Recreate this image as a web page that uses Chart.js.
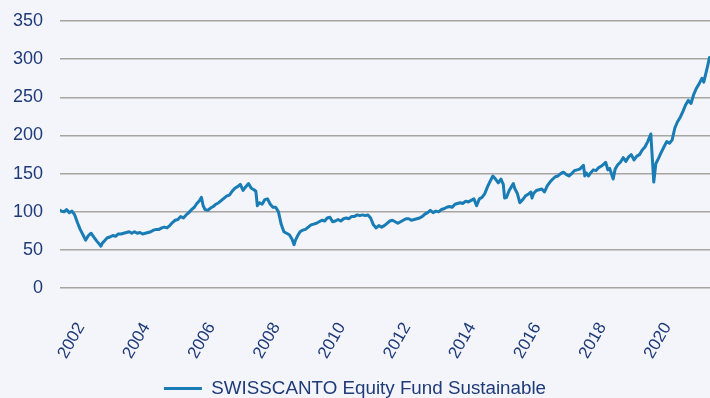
<!DOCTYPE html>
<html>
<head>
<meta charset="utf-8">
<script src="https://cdn.jsdelivr.net/npm/chart.js@4.4.1/dist/chart.umd.min.js"></script>
<style>
  html, body { margin: 0; padding: 0; background: #f3f5fb; }
  #wrap { width: 710px; height: 398px; }
</style>
</head>
<body>
<div id="wrap"><canvas id="chart" width="710" height="398"></canvas></div>
<script>
// Indexed NAV of the fund, one row per calendar year (dates and values line up row by row).
const dates = [
  '2002-01-01','2002-01-15','2002-02-15','2002-03-15','2002-04-15','2002-05-15','2002-06-15','2002-07-15','2002-08-15','2002-09-15','2002-10-15','2002-11-15','2002-12-15',
  '2003-01-15','2003-02-15','2003-03-15','2003-04-05','2003-04-20','2003-05-15','2003-06-15','2003-07-15','2003-08-15','2003-09-15','2003-10-15','2003-11-15','2003-12-15',
  '2004-01-15','2004-02-15','2004-03-15','2004-04-15','2004-05-15','2004-06-15','2004-07-15','2004-08-15','2004-09-15','2004-10-15','2004-11-15','2004-12-15',
  '2005-01-15','2005-02-15','2005-03-15','2005-04-15','2005-05-15','2005-06-15','2005-07-15','2005-08-15','2005-09-15','2005-10-15','2005-11-15','2005-12-15',
  '2006-01-15','2006-02-15','2006-03-15','2006-04-15','2006-05-05','2006-05-25','2006-06-15','2006-07-15','2006-08-15','2006-09-15','2006-10-15','2006-11-15','2006-12-15',
  '2007-01-15','2007-02-15','2007-03-15','2007-04-15','2007-05-15','2007-06-15','2007-07-15','2007-08-15','2007-09-15','2007-10-15','2007-11-15','2007-12-15',
  '2008-01-05','2008-01-22','2008-02-15','2008-03-15','2008-04-15','2008-05-15','2008-06-15','2008-07-15','2008-08-15','2008-09-15','2008-10-15','2008-11-15','2008-12-15',
  '2009-01-15','2009-02-15','2009-03-09','2009-03-25','2009-04-15','2009-05-15','2009-06-15','2009-07-15','2009-08-15','2009-09-15','2009-10-15','2009-11-15','2009-12-15',
  '2010-01-15','2010-02-15','2010-03-15','2010-04-15','2010-05-15','2010-06-15','2010-07-15','2010-08-15','2010-09-15','2010-10-15','2010-11-15','2010-12-15',
  '2011-01-15','2011-02-15','2011-03-15','2011-04-15','2011-05-15','2011-06-15','2011-07-15','2011-08-15','2011-09-15','2011-10-15','2011-11-15','2011-12-15',
  '2012-01-15','2012-02-15','2012-03-15','2012-04-15','2012-05-15','2012-06-15','2012-07-15','2012-08-15','2012-09-15','2012-10-15','2012-11-15','2012-12-15',
  '2013-01-15','2013-02-15','2013-03-15','2013-04-15','2013-05-15','2013-06-15','2013-07-15','2013-08-15','2013-09-15','2013-10-15','2013-11-15','2013-12-15',
  '2014-01-15','2014-02-15','2014-03-15','2014-04-15','2014-05-15','2014-06-15','2014-07-15','2014-08-15','2014-09-15','2014-10-15','2014-11-15','2014-12-15',
  '2015-01-15','2015-02-15','2015-03-15','2015-04-15','2015-05-15','2015-06-15','2015-07-15','2015-08-10','2015-08-25','2015-09-15','2015-10-15','2015-11-15','2015-12-01','2015-12-15',
  '2016-01-15','2016-02-11','2016-03-15','2016-04-15','2016-05-15','2016-06-15','2016-06-27','2016-07-15','2016-08-15','2016-09-15','2016-10-15','2016-11-15','2016-12-15',
  '2017-01-15','2017-02-15','2017-03-15','2017-04-15','2017-05-15','2017-06-15','2017-07-15','2017-08-15','2017-09-15','2017-10-15','2017-11-15','2017-12-15',
  '2018-01-25','2018-02-09','2018-02-25','2018-03-23','2018-04-15','2018-05-15','2018-06-15','2018-07-15','2018-08-15','2018-09-15','2018-10-01','2018-10-25','2018-11-15','2018-12-24',
  '2019-01-15','2019-02-15','2019-03-15','2019-04-15','2019-05-15','2019-06-15','2019-07-15','2019-08-15','2019-09-15','2019-10-15','2019-11-15','2019-12-15',
  '2020-01-15','2020-02-19','2020-03-23','2020-04-15','2020-05-15','2020-06-15','2020-07-15','2020-08-15','2020-09-15','2020-10-15','2020-11-15','2020-12-15',
  '2021-01-15','2021-02-15','2021-03-15','2021-04-15','2021-05-15','2021-06-15','2021-07-15','2021-08-15','2021-09-15','2021-10-05','2021-11-15','2021-12-08'
];
const fundValues = [
  102, 101, 100, 103,  99, 101,  96,  86,  77,  70,  63,  69,  72,
   67,  62,  58,  55,  59,  62,  66,  67,  69,  68,  71,  71,  72,
   73,  74,  72,  74,  72,  73,  71,  72,  73,  74,  76,  77,
   77,  79,  80,  79,  82,  86,  89,  90,  94,  92,  96,  99,
  103, 106, 111, 115, 119, 108, 103, 102, 105, 107, 110, 112, 115,
  118, 121, 122, 127, 131, 133, 136, 128, 133, 137, 131, 129,
  127, 108, 112, 110, 116, 117, 110, 106, 106, 100,  84,  74,  72,
   70,  64,  57,  63,  68,  74,  76,  77,  80,  83,  84,  85,  87,
   89,  88,  92,  93,  87,  88,  90,  88,  91,  92,  91,  94,
   94,  96,  95,  96,  95,  96,  92,  83,  79,  82,  80,  82,
   85,  88,  89,  87,  85,  87,  89,  91,  91,  89,  90,  91,
   92,  94,  97,  99, 102,  99, 101, 100, 103, 104, 106, 107,
  106, 110, 111, 112, 111, 114, 113, 115, 117, 108, 117, 119,
  124, 133, 140, 147, 143, 138, 143, 136, 118, 119, 128, 134, 137, 131,
  124, 112, 116, 121, 123, 126, 118, 124, 128, 129, 130, 126, 134,
  139, 143, 146, 147, 150, 152, 149, 147, 150, 154, 155, 156,
  161, 147, 151, 147, 151, 155, 154, 158, 160, 163, 165, 155, 157, 143,
  156, 162, 165, 171, 166, 172, 175, 168, 173, 175, 181, 185,
  192, 202, 139, 163, 170, 178, 185, 192, 190, 194, 210, 218,
  224, 232, 240, 246, 242, 254, 262, 268, 275, 270, 290, 302
];
const tickYears = [2002, 2004, 2006, 2008, 2010, 2012, 2014, 2016, 2018, 2020];
const yTicks = [0, 50, 100, 150, 200, 250, 300, 350];
const seriesLabel = 'SWISSCANTO Equity Fund Sustainable';

// 'YYYY-MM-DD' -> fractional year for the linear time axis
function toYear(s) {
  const [y, m, d] = s.split('-').map(Number);
  const start = Date.UTC(y, 0, 1), end = Date.UTC(y + 1, 0, 1);
  return y + (Date.UTC(y, m - 1, d) - start) / (end - start);
}

const points = dates.map((d, i) => ({ x: toYear(d), y: fundValues[i] }));

const textColor = '#1f3a78';
const fontFamily = '"Liberation Sans", Arial, Helvetica, sans-serif';

const background = {
  id: 'background',
  beforeDraw(chart) {
    const { ctx } = chart;
    ctx.save();
    ctx.fillStyle = '#f3f5fb';
    ctx.fillRect(0, 0, chart.width, chart.height);
    ctx.restore();
  }
};

new Chart(document.getElementById('chart'), {
  type: 'line',
  data: {
    datasets: [{
      label: seriesLabel,
      data: points,
      borderColor: '#1a7cb4',
      backgroundColor: '#1a7cb4',
      borderWidth: 3,
      pointRadius: 0,
      tension: 0,
      borderJoinStyle: 'round',
      borderCapStyle: 'round',
      fill: false
    }]
  },
  options: {
    responsive: false,
    animation: false,
    devicePixelRatio: 1,
    layout: { padding: { left: 0, right: 0, top: 21, bottom: -10 } },
    scales: {
      x: {
        type: 'linear',
        min: 2002,
        max: 2021.95,
        grid: { display: false },
        border: { display: false },
        afterBuildTicks(scale) {
          scale.ticks = tickYears.map(v => ({ value: v }));
        },
        afterFit(scale) { scale.height = 83; },
        ticks: {
          color: textColor,
          font: { family: fontFamily, size: 17 },
          minRotation: 60,
          maxRotation: 60,
          padding: 23,
          labelOffset: 21,
          autoSkip: false,
          callback: v => String(v)
        }
      },
      y: {
        min: 0,
        max: 350,
        afterBuildTicks(scale) {
          scale.ticks = yTicks.map(v => ({ value: v }));
        },
        afterFit(scale) {
          scale.width = 60;
          scale.paddingTop = 0;
          scale.paddingBottom = 0;
        },
        grid: { color: '#a8a5a0', lineWidth: 1.5, drawTicks: false },
        border: { display: false },
        ticks: {
          color: textColor,
          font: { family: fontFamily, size: 18 },
          padding: 17
        }
      }
    },
    plugins: {
      legend: {
        position: 'bottom',
        labels: {
          color: textColor,
          font: { family: fontFamily, size: 18.8 },
          usePointStyle: true,
          pointStyle: 'line',
          pointStyleWidth: 38,
          padding: 8
        }
      },
      tooltip: { enabled: false }
    }
  },
  plugins: [background]
});
</script>
</body>
</html>
